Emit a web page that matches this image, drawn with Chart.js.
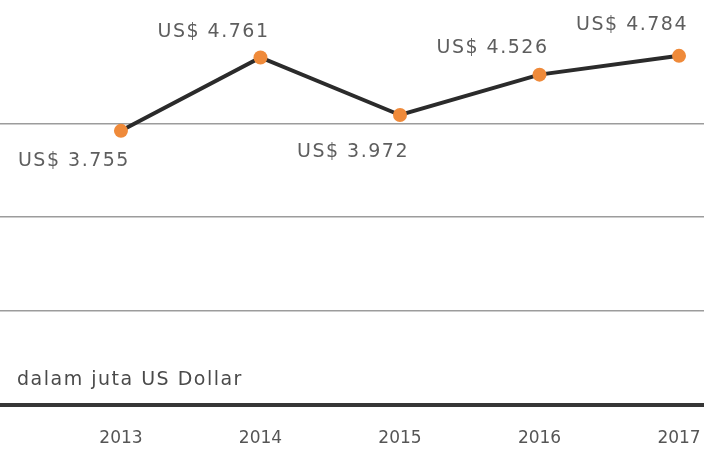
<!DOCTYPE html>
<html lang="id">
<head>
  <meta charset="UTF-8">
  <title>Nilai dalam juta US Dollar</title>
  <style>
    body {
        margin: 0;
        padding: 0;
        background: #fff;
        overflow: hidden;
    }
    canvas {
        display: block;
    }
  </style>
</head>
<body>
  <canvas id="trend" width="704" height="449"></canvas>

  <script src="https://cdn.jsdelivr.net/npm/chart.js"></script>
  <script>
    // data
    const years = [2013, 2014, 2015, 2016, 2017];
    const values = [3755, 4761, 3972, 4526, 4784];
    const valueLabels = ['US$ 3.755', 'US$ 4.761', 'US$ 3.972', 'US$ 4.526', 'US$ 4.784'];
    const gridValues = [1290, 2570, 3850];
    const unitNote = 'dalam juta US Dollar';

    // label placement (px offset from each point)
    const labelDx = -47;
    const labelDy = [30, -25, 37, -27, -31];

    const pointLabels = {
      id: 'pointLabels',
      afterDatasetsDraw(chart) {
        const ctx = chart.ctx;
        const meta = chart.getDatasetMeta(0);
        ctx.save();
        ctx.font = '19px "DejaVu Sans"';
        ctx.letterSpacing = '1.5px';
        ctx.fillStyle = '#5e5e5e';
        ctx.textAlign = 'center';
        ctx.textBaseline = 'middle';
        meta.data.forEach((pt, i) => {
          ctx.fillText(valueLabels[i], pt.x + labelDx, pt.y + labelDy[i]);
        });
        // unit note, bottom left of the plot
        ctx.textAlign = 'left';
        ctx.textBaseline = 'alphabetic';
        ctx.fillStyle = '#4a4a4a';
        ctx.fillText(unitNote, 17, 385);
        ctx.restore();
      }
    };

    new Chart(document.getElementById('trend'), {
      type: 'line',
      data: {
        datasets: [{
          data: years.map((y, i) => ({ x: y, y: values[i] })),
          borderColor: '#2b2b2b',
          borderWidth: 4,
          pointBackgroundColor: '#ef8a3a',
          pointBorderColor: '#ef8a3a',
          pointRadius: 7,
          pointBorderWidth: 0,
          tension: 0,
          fill: false,
          clip: false
        }]
      },
      options: {
        responsive: false,
        animation: false,
        layout: { padding: 0, autoPadding: false },
        plugins: {
          legend: { display: false },
          tooltip: { enabled: false }
        },
        scales: {
          x: {
            type: 'linear',
            min: 2012.133,
            max: 2017.179,
            afterBuildTicks: (scale) => { scale.ticks = years.map(v => ({ value: v })); },
            afterFit: (scale) => {
              scale.paddingLeft = 0;
              scale.paddingRight = 0;
              scale.height = 44.5;
            },
            grid: { display: false, drawTicks: false },
            border: { display: true, color: '#363636', width: 4 },
            ticks: {
              autoSkip: false,
              maxRotation: 0,
              padding: 24,
              color: '#555',
              font: { family: 'DejaVu Sans', size: 17 },
              callback: (v) => String(v)
            }
          },
          y: {
            min: 0,
            max: 5550,
            afterBuildTicks: (scale) => { scale.ticks = gridValues.map(v => ({ value: v })); },
            afterFit: (scale) => {
              scale.width = 0;
              scale.paddingTop = 0;
              scale.paddingBottom = 0;
            },
            grid: { color: '#9c9c9c', lineWidth: 1.5, drawTicks: false },
            border: { display: false },
            ticks: { display: false }
          }
        }
      },
      plugins: [pointLabels]
    });
  </script>
</body>
</html>
